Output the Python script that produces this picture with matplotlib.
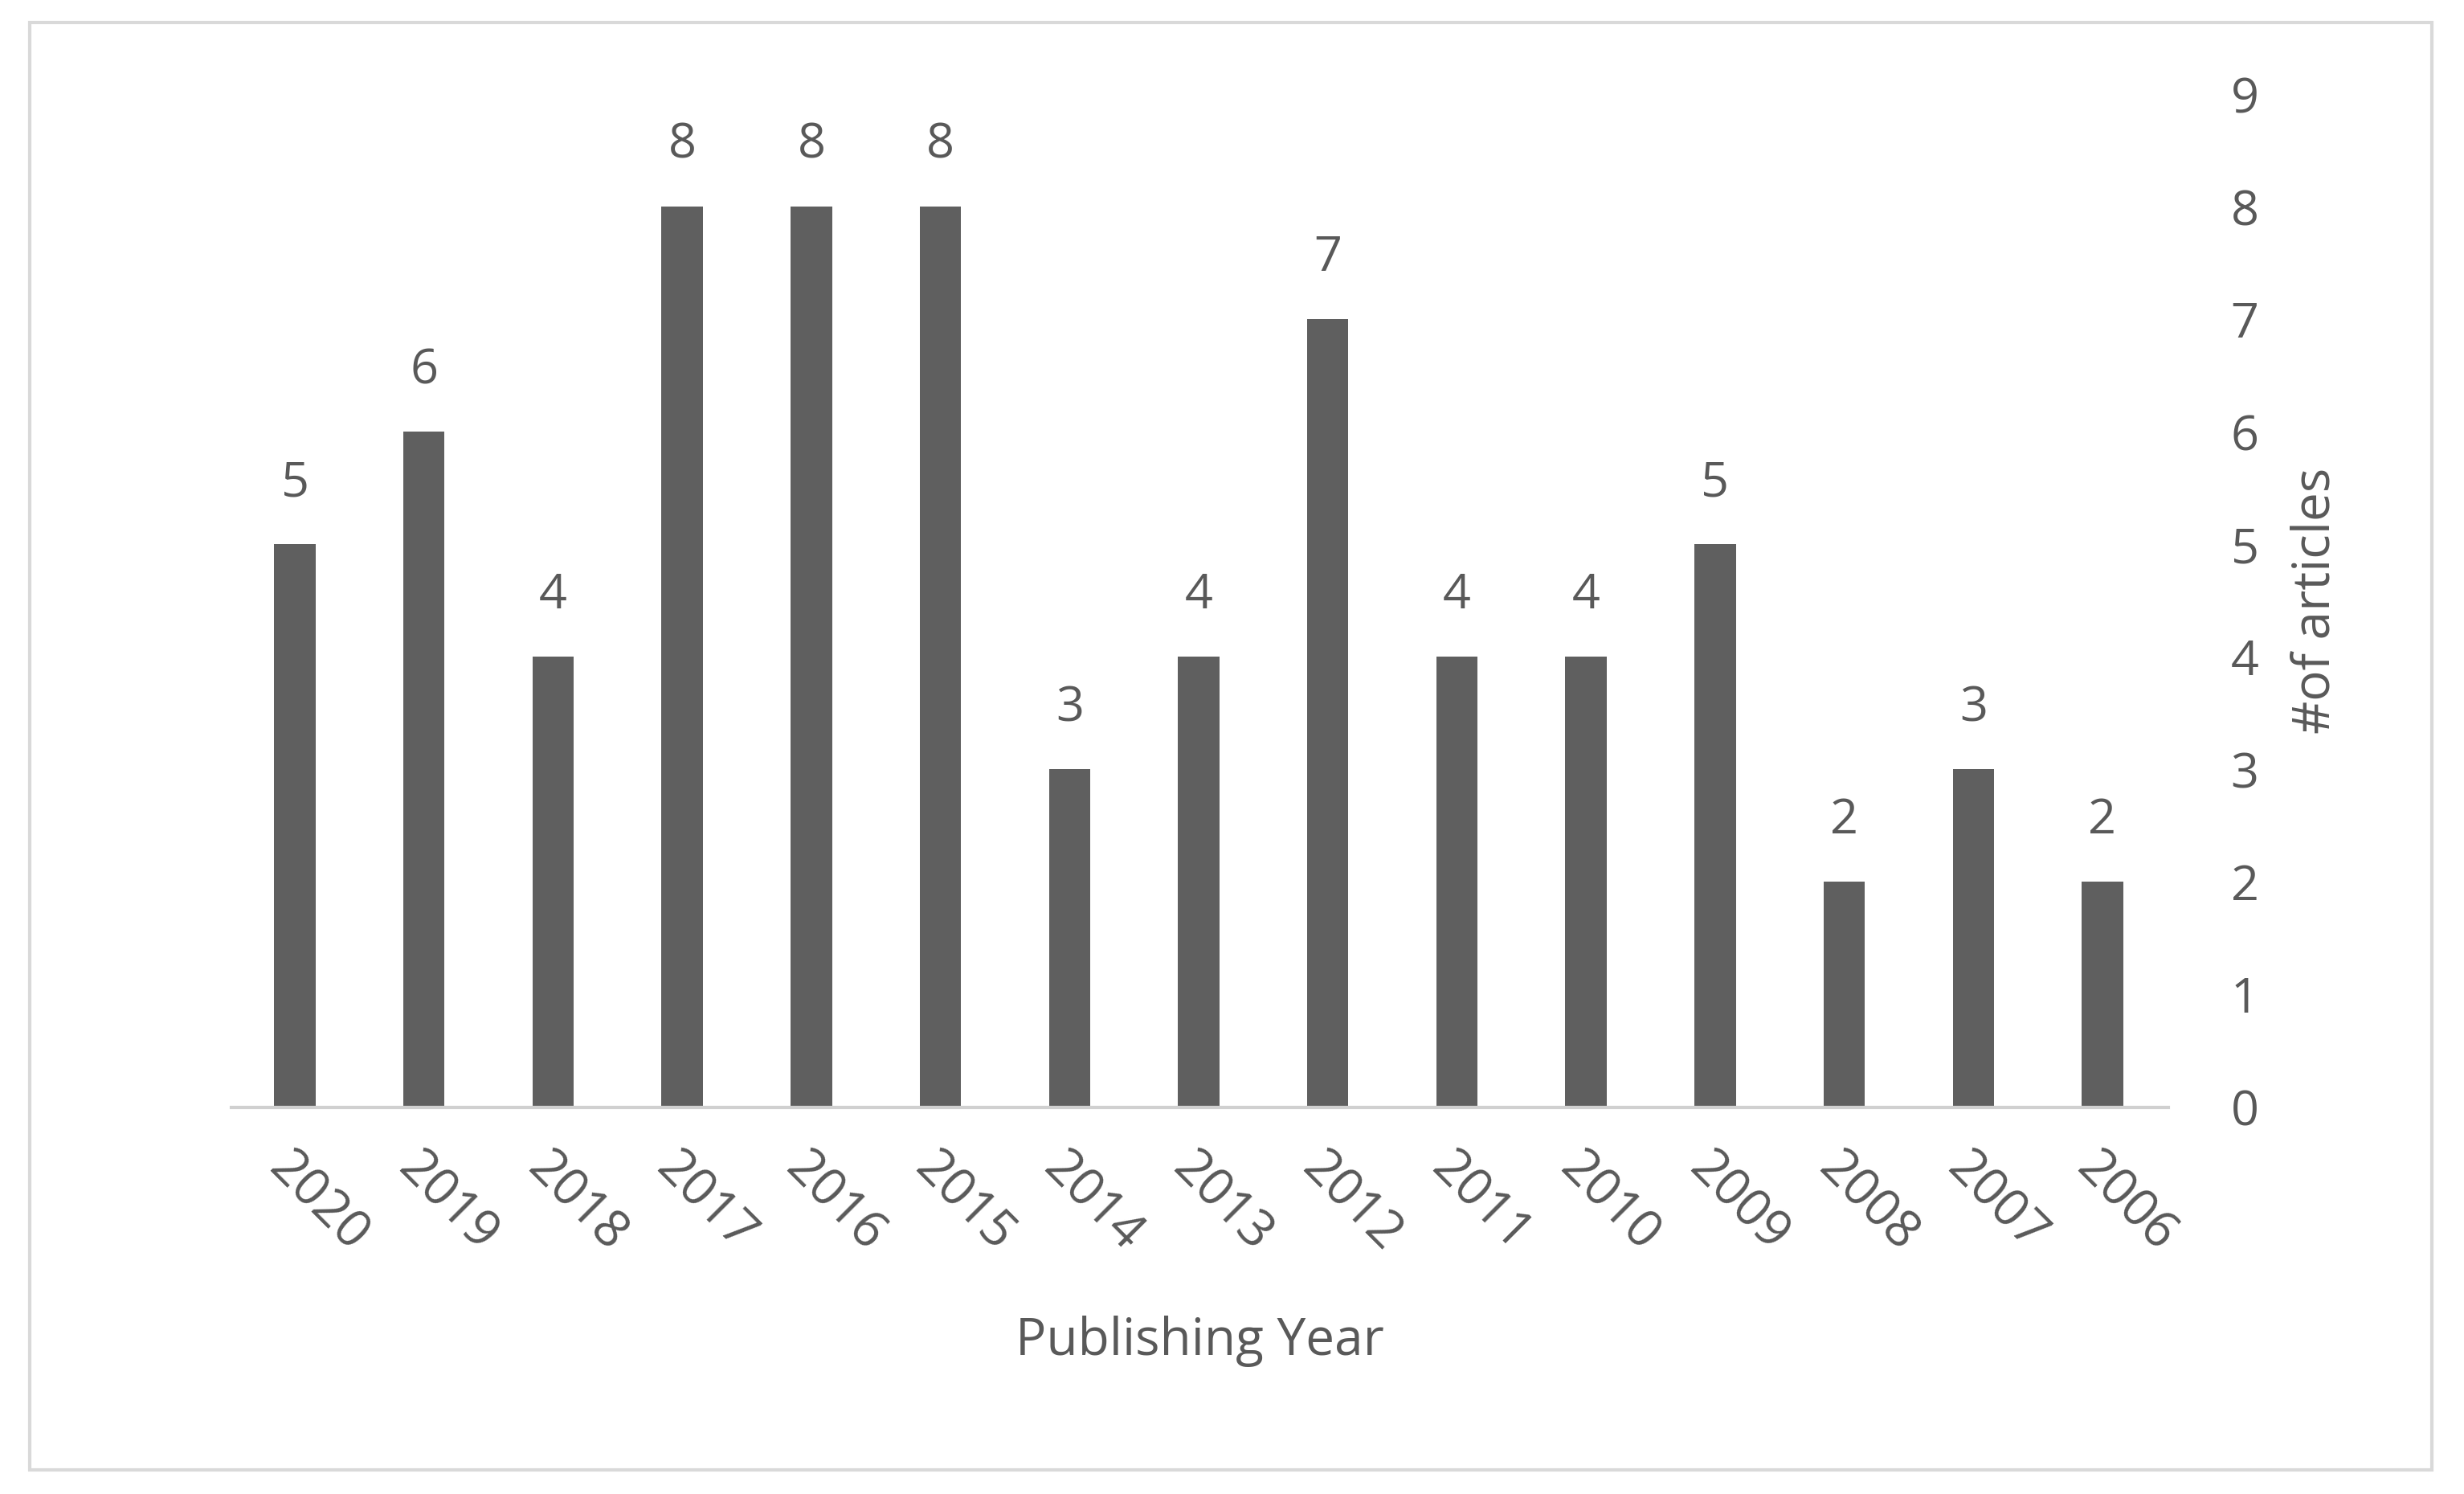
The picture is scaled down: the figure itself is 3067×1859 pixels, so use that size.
import matplotlib.pyplot as plt
from matplotlib.patches import Rectangle

# Data
years = ["2020", "2019", "2018", "2017", "2016", "2015", "2014", "2013",
         "2012", "2011", "2010", "2009", "2008", "2007", "2006"]
articles = [5, 6, 4, 8, 8, 8, 3, 4, 7, 4, 4, 5, 2, 3, 2]

text_color = "#595959"
bar_color = "#5f5f5f"
plt.rcParams["font.family"] = ["Open Sans", "DejaVu Sans"]

fig = plt.figure(figsize=(15.335, 9.295), dpi=200)
ax = fig.add_axes([0.094, 0.259, 0.786, 0.678])

x = range(len(years))
ax.bar(x, articles, width=0.32, color=bar_color, zorder=2)
for xi, v in zip(x, articles):
    ax.text(xi, v + 0.33, str(v), ha="center", va="bottom",
            fontsize=22, color=text_color)

ax.set_xlim(-0.49, len(years) - 0.49)
ax.set_ylim(0, 9)
ax.yaxis.tick_right()
ax.yaxis.set_label_position("right")
ax.set_yticks(range(10))
ax.tick_params(axis="y", length=0, pad=28, labelsize=22, labelcolor=text_color)
ax.set_xticks(list(x))
ax.set_xticklabels(years, rotation=-45, ha="left", rotation_mode="anchor")
ax.tick_params(axis="x", length=0, pad=16, labelsize=23, labelcolor=text_color)
for s in ["top", "left", "right"]:
    ax.spines[s].set_visible(False)
ax.spines["bottom"].set_color("#d0d0d0")
ax.spines["bottom"].set_linewidth(1.5)

ax.set_ylabel("#of articles", fontsize=23, color=text_color, labelpad=14)
ax.set_xlabel("Publishing Year", fontsize=23, color=text_color, labelpad=24)

fig.patches.append(Rectangle((0.012, 0.016), 0.975, 0.969, transform=fig.transFigure,
                             fill=False, edgecolor="#d9d9d9", linewidth=1.5))

fig.savefig("out.png", dpi=200)
